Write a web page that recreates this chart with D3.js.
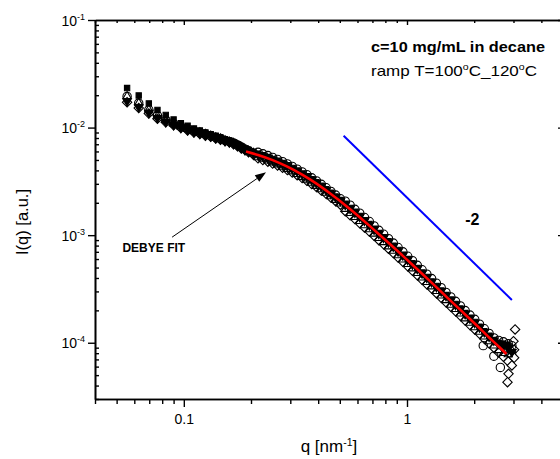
<!DOCTYPE html>
<html><head><meta charset="utf-8">
<script src="https://cdn.jsdelivr.net/npm/d3@7"></script>
<style>body{margin:0;background:#fff;} svg{display:block;font-family:"Liberation Sans",Arial,sans-serif;}</style>
</head><body><svg id="c" width="560" height="459"></svg>
<script>
// ---------- data ----------
const qValues = [0.0557,0.0628,0.0697,0.0762,0.0830,0.0900,0.0970,0.1040,0.1110,0.1180,
0.1250,0.1320,0.1390,0.1460,0.1530,0.1600,0.1670,0.1740,0.1810,0.1880,
0.1950,0.2050,0.2150,0.2260,0.2380,0.2500,0.2630,0.2770,0.2910,0.3060,
0.3220,0.3390,0.3560,0.3740,0.3930,0.4130,0.4340,0.4560,0.4790,0.5030,
0.5290,0.5560,0.5840,0.6140,0.6450,0.6780,0.7120,0.7480,0.7860,0.8260,
0.8680,0.9120,0.9580,1.007,1.058,1.112,1.168,1.227,1.289,1.354,
1.423,1.495,1.571,1.650,1.734,1.822,1.914,2.011,2.113,2.220,
2.332,2.450,2.574,2.704,2.841,2.950];

const iCircle = [0.0195,0.0169,0.0146,0.0129,0.0118,0.0109,0.0102,0.0097,0.0093,0.0090,
0.0087,0.0084,0.0081,0.0079,0.0076,0.0074,0.0072,0.0069,0.0066,0.0063,
0.0061,0.0058,5.89e-3,5.70e-3,5.49e-3,5.28e-3,5.06e-3,4.82e-3,4.59e-3,4.36e-3,
4.11e-3,3.87e-3,3.65e-3,3.41e-3,3.19e-3,2.97e-3,2.76e-3,2.55e-3,2.36e-3,2.18e-3,
2.07e-3,1.90e-3,1.74e-3,1.60e-3,1.46e-3,1.34e-3,1.22e-3,1.11e-3,1.02e-3,9.28e-4,
8.45e-4,7.68e-4,7.0e-4,6.37e-4,5.79e-4,5.25e-4,4.77e-4,4.34e-4,3.95e-4,3.58e-4,
3.25e-4,2.94e-4,2.67e-4,2.43e-4,2.20e-4,1.99e-4,1.81e-4,1.65e-4,1.49e-4,1.35e-4,
1.22e-4,1.11e-4,1.05e-4,1.02e-4,9.8e-5,9.4e-5];

const iSquare = [0.0233,0.0199,0.0168,0.0146,0.0131,0.0119,0.0110,0.0104,0.0098,0.0094,
0.0090,0.0087,0.0084,0.0081,0.0078,0.0076,0.0073,0.0070,0.0067,0.0064,
0.0062,0.0059,5.72e-3,5.55e-3,5.33e-3,5.12e-3,4.91e-3,4.68e-3,4.46e-3,4.22e-3,
3.99e-3,3.75e-3,3.54e-3,3.31e-3,3.10e-3,2.88e-3,2.68e-3,2.48e-3,2.29e-3,2.12e-3,
1.96e-3,1.79e-3,1.65e-3,1.51e-3,1.38e-3,1.27e-3,1.15e-3,1.05e-3,9.6e-4,8.8e-4,
8.0e-4,7.3e-4,6.6e-4,6.0e-4,5.5e-4,4.95e-4,4.5e-4,4.1e-4,3.72e-4,3.38e-4,
3.06e-4,2.78e-4,2.52e-4,2.30e-4,2.08e-4,1.89e-4,1.71e-4,1.56e-4,1.41e-4,1.28e-4,
1.16e-4,1.06e-4,1.0e-4,9.8e-5,9.5e-5,9.0e-5];

const iTriUp = [0.0196,0.0170,0.0147,0.0129,0.0118,0.0109,0.0102,0.0097,0.0093,0.0090,
0.0087,0.0084,0.0081,0.0079,0.0076,0.0074,0.0072,0.0069,0.0066,0.0063,
0.0061,0.0058,5.28e-3,5.11e-3,4.92e-3,4.73e-3,4.53e-3,4.32e-3,4.11e-3,3.90e-3,
3.69e-3,3.47e-3,3.27e-3,3.06e-3,2.86e-3,2.66e-3,2.47e-3,2.29e-3,2.12e-3,1.96e-3,
1.75e-3,1.60e-3,1.47e-3,1.35e-3,1.23e-3,1.13e-3,1.03e-3,9.38e-4,8.59e-4,7.83e-4,
7.13e-4,6.49e-4,5.91e-4,5.37e-4,4.89e-4,4.43e-4,4.03e-4,3.66e-4,3.33e-4,3.02e-4,
2.74e-4,2.48e-4,2.25e-4,2.05e-4,1.86e-4,1.68e-4,1.53e-4,1.39e-4,1.26e-4,1.14e-4,
1.03e-4,9.4e-5,8.5e-5,8.0e-5,7.8e-5,8.5e-5];

const iTriDown = [0.0176,0.0155,0.0137,0.0123,0.0113,0.0106,0.0100,0.0095,0.0091,0.0088,
0.0085,0.0083,0.0080,0.0078,0.0075,0.0073,0.0071,0.0068,0.0065,0.0062,
0.0060,0.0057,5.6e-3,5.42e-3,5.22e-3,5.02e-3,4.81e-3,4.58e-3,4.37e-3,4.15e-3,
3.92e-3,3.68e-3,3.47e-3,3.25e-3,3.04e-3,2.83e-3,2.62e-3,2.43e-3,2.25e-3,2.08e-3,
1.92e-3,1.76e-3,1.62e-3,1.48e-3,1.36e-3,1.24e-3,1.13e-3,1.03e-3,9.45e-4,8.6e-4,
7.85e-4,7.1e-4,6.5e-4,5.9e-4,5.35e-4,4.87e-4,4.42e-4,4.02e-4,3.66e-4,3.31e-4,
3.01e-4,2.73e-4,2.48e-4,2.25e-4,2.05e-4,1.85e-4,1.68e-4,1.53e-4,1.39e-4,1.26e-4,
1.14e-4,1.05e-4,9.8e-5,9.4e-5,8.8e-5,8.2e-5];

const iDiamond = [0.0172,0.0152,0.0135,0.0121,0.0112,0.0105,0.0099,0.0094,0.0090,0.0087,
0.0084,0.0082,0.0079,0.0077,0.0075,0.0073,0.0070,0.0067,0.0064,0.0062,
0.0059,0.0056,5.17e-3,5.00e-3,4.82e-3,4.63e-3,4.44e-3,4.23e-3,4.03e-3,3.82e-3,
3.61e-3,3.39e-3,3.20e-3,2.99e-3,2.80e-3,2.60e-3,2.42e-3,2.24e-3,2.07e-3,1.92e-3,
1.67e-3,1.53e-3,1.41e-3,1.29e-3,1.18e-3,1.08e-3,9.86e-4,8.98e-4,8.22e-4,7.49e-4,
6.82e-4,6.2e-4,5.65e-4,5.14e-4,4.67e-4,4.24e-4,3.85e-4,3.5e-4,3.19e-4,2.89e-4,
2.62e-4,2.38e-4,2.16e-4,1.96e-4,1.78e-4,1.61e-4,1.46e-4,1.33e-4,1.21e-4,1.09e-4,
9.9e-5,9.0e-5,8.1e-5,7.4e-5,6.7e-5,7.6e-5];

// a few stray open circles below the band at high q
const strayQ = [2.196, 2.45, 2.62];
const strayI = [9.4e-5, 7.5e-5, 5.9e-5];

// scattered diamonds at the very end of the q range
const tailQ = [3.05,3.00,3.02,3.02,2.95,2.85,2.82];
const tailI = [1.33e-4,1.035e-4,8.6e-5,7.25e-5,6.15e-5,5.14e-5,4.3e-5];

// Debye fit
const fitQ = [0.19,0.215,0.25,0.291,0.339,0.393,0.456,0.529,0.614,0.712,0.826,0.958,1.112,1.289,1.495,1.734,2.011,2.332,2.574,2.79];
const fitI = [5.99e-3,5.56e-3,4.98e-3,4.33e-3,3.65e-3,3.01e-3,2.41e-3,1.90e-3,1.47e-3,1.12e-3,8.51e-4,6.42e-4,4.82e-4,3.62e-4,2.70e-4,2.02e-4,1.51e-4,1.12e-4,9.23e-5,7.86e-5];

// slope -2 guide line
const slopeQ = [0.52, 2.95];
const slopeI = [8.4e-3, 2.5e-4];

// annotation anchors (data coords)
const arrowFrom = [0.0886, 9.58e-4];
const arrowTo = [0.2336, 3.84e-3];
const debyeLabelAt = [0.0531, 6.94e-4];
const slopeLabelAt = [1.824, 1.24e-3];

const xTickMajor = [0.1, 1];
const xTickLabels = ["0.1", "1"];
const yTickMajor = [1e-4, 1e-3, 1e-2, 1e-1];
const yTickExp = ["-4", "-3", "-2", "-1"];

// ---------- chart ----------
const svg = d3.select("#c");
const x = d3.scaleLog().domain([0.04, 5]).range([95, 563]);
const y = d3.scaleLog().domain([3e-5, 0.1]).range([399, 20]);
const X0 = 95, X1 = 563, Y0 = 399, Y1 = 20;

const xMinor = x.ticks().filter(v => !xTickMajor.some(m => Math.abs(m - v) / m < 1e-6));
const yMinor = y.ticks().filter(v => !yTickMajor.some(m => Math.abs(m - v) / m < 1e-6));

function styleAxis(g) {
  g.select(".domain").attr("stroke", "#000").attr("stroke-width", 1.6);
  g.selectAll(".tick line").attr("stroke", "#000").attr("stroke-width", 1.4);
  g.selectAll("text").attr("font-size", 14).attr("fill", "#000");
}

// bottom axis (ticks out)
svg.append("g").attr("transform", `translate(0,${Y0})`)
  .call(d3.axisBottom(x).tickValues(xMinor).tickSize(5).tickFormat("").tickSizeOuter(0)).call(styleAxis);
svg.append("g").attr("transform", `translate(0,${Y0})`)
  .call(d3.axisBottom(x).tickValues(xTickMajor).tickSize(8).tickPadding(7).tickFormat((d, i) => xTickLabels[i]).tickSizeOuter(0))
  .call(styleAxis);
// top axis (ticks in)
svg.append("g").attr("transform", `translate(0,${Y1})`)
  .call(d3.axisBottom(x).tickValues(xMinor).tickSize(3).tickFormat("").tickSizeOuter(0)).call(styleAxis);
svg.append("g").attr("transform", `translate(0,${Y1})`)
  .call(d3.axisBottom(x).tickValues(xTickMajor).tickSize(5).tickFormat("").tickSizeOuter(0)).call(styleAxis);
// left axis
svg.append("g").attr("transform", `translate(${X0},0)`)
  .call(d3.axisRight(y).tickValues(yMinor).tickSize(4).tickFormat("").tickSizeOuter(0)).call(styleAxis);
const yl = svg.append("g").attr("transform", `translate(${X0},0)`)
  .call(d3.axisLeft(y).tickValues(yTickMajor).tickSize(7).tickPadding(4).tickFormat("").tickSizeOuter(0))
  .call(styleAxis);
yl.selectAll(".tick").append("text")
  .attr("x", -10).attr("y", 5).attr("text-anchor", "end").attr("font-size", 14).attr("fill", "#000")
  .each(function (d, i) {
    const t = d3.select(this);
    t.append("tspan").text("10");
    t.append("tspan").attr("dy", -6).attr("font-size", 9).text(yTickExp[i]);
  });
// right axis (ticks in)
svg.append("g").attr("transform", `translate(${X1},0)`)
  .call(d3.axisLeft(y).tickValues(yMinor).tickSize(3).tickFormat("").tickSizeOuter(0)).call(styleAxis);
svg.append("g").attr("transform", `translate(${X1},0)`)
  .call(d3.axisLeft(y).tickValues(yTickMajor).tickSize(5).tickFormat("").tickSizeOuter(0)).call(styleAxis);

// axis titles
const xt = svg.append("text").attr("x", 329).attr("y", 452).attr("text-anchor", "middle").attr("font-size", 17);
xt.append("tspan").text("q [nm");
xt.append("tspan").attr("dy", -6).attr("font-size", 10.5).text("-1");
xt.append("tspan").attr("dy", 6).text("]");
svg.append("text").attr("transform", "translate(28,222) rotate(-90)").attr("text-anchor", "middle")
  .attr("font-size", 16.5).text("I(q) [a.u.]");

// ---------- data markers ----------
const plot = svg.append("g");
function drawSeries(qs, is, type, size, filled, rotate, opaque) {
  const sym = d3.symbol().type(type).size(size);
  plot.append("g").selectAll("path").data(qs.map((q, k) => [q, is[k]])).join("path")
    .attr("d", sym)
    .attr("transform", d => `translate(${x(d[0])},${y(d[1])}) rotate(${rotate})`)
    .attr("fill", filled ? "#000" : "#fff")
    .attr("fill-opacity", filled || opaque ? 1 : 0)
    .attr("stroke", "#000").attr("stroke-width", 1.1);
}
drawSeries(qValues, iSquare, d3.symbolSquare, 28, true, 0, false);
drawSeries(qValues, iDiamond, d3.symbolSquare, 44, false, 45, false);
drawSeries(tailQ, tailI, d3.symbolSquare, 44, false, 45, true);
drawSeries(qValues, iTriDown, d3.symbolTriangle, 32, true, 180, false);
drawSeries(qValues, iCircle, d3.symbolCircle, 55, false, 0, false);
drawSeries(strayQ, strayI, d3.symbolCircle, 55, false, 0, false);
drawSeries(qValues, iTriUp, d3.symbolTriangle, 28, false, 0, false);

// fit line
const line = d3.line().x(d => x(d[0])).y(d => y(d[1])).curve(d3.curveMonotoneX);
svg.append("path").datum(fitQ.map((q, k) => [q, fitI[k]])).attr("d", line)
  .attr("fill", "none").attr("stroke", "#ff0000").attr("stroke-width", 2.6);

// slope line
svg.append("path").datum(slopeQ.map((q, k) => [q, slopeI[k]])).attr("d", d3.line().x(d => x(d[0])).y(d => y(d[1])))
  .attr("fill", "none").attr("stroke", "#0000ff").attr("stroke-width", 2);
svg.append("text").attr("x", x(slopeLabelAt[0])).attr("y", y(slopeLabelAt[1]))
  .attr("font-size", 16).attr("font-weight", "bold").text("-2");

// arrow + label
const ax0 = x(arrowFrom[0]), ay0 = y(arrowFrom[1]), ax1 = x(arrowTo[0]), ay1 = y(arrowTo[1]);
const ang = Math.atan2(ay1 - ay0, ax1 - ax0);
const hl = 11, hw = 4;
const bx = ax1 - hl * Math.cos(ang), by = ay1 - hl * Math.sin(ang);
svg.append("line").attr("x1", ax0).attr("y1", ay0).attr("x2", bx).attr("y2", by)
  .attr("stroke", "#000").attr("stroke-width", 1);
svg.append("path").attr("d", `M${ax1},${ay1}L${bx - hw * Math.sin(ang)},${by + hw * Math.cos(ang)}L${bx + hw * Math.sin(ang)},${by - hw * Math.cos(ang)}Z`)
  .attr("fill", "#000");
svg.append("text").attr("x", x(debyeLabelAt[0])).attr("y", y(debyeLabelAt[1]))
  .attr("font-size", 12).attr("font-weight", "bold").text("DEBYE FIT");

// legend text
svg.append("text").attr("x", 371).attr("y", 52).attr("font-size", 14.5).attr("font-weight", "bold")
  .attr("textLength", 174).attr("lengthAdjust", "spacingAndGlyphs").text("c=10 mg/mL in decane");
const lt = svg.append("text").attr("x", 371).attr("y", 76).attr("font-size", 14.5)
  .attr("textLength", 166).attr("lengthAdjust", "spacingAndGlyphs");
lt.append("tspan").text("ramp T=100");
lt.append("tspan").attr("dy", -6).attr("font-size", 9).text("o");
lt.append("tspan").attr("dy", 6).text("C_120");
lt.append("tspan").attr("dy", -6).attr("font-size", 9).text("o");
lt.append("tspan").attr("dy", 6).text("C");
</script></body></html>
